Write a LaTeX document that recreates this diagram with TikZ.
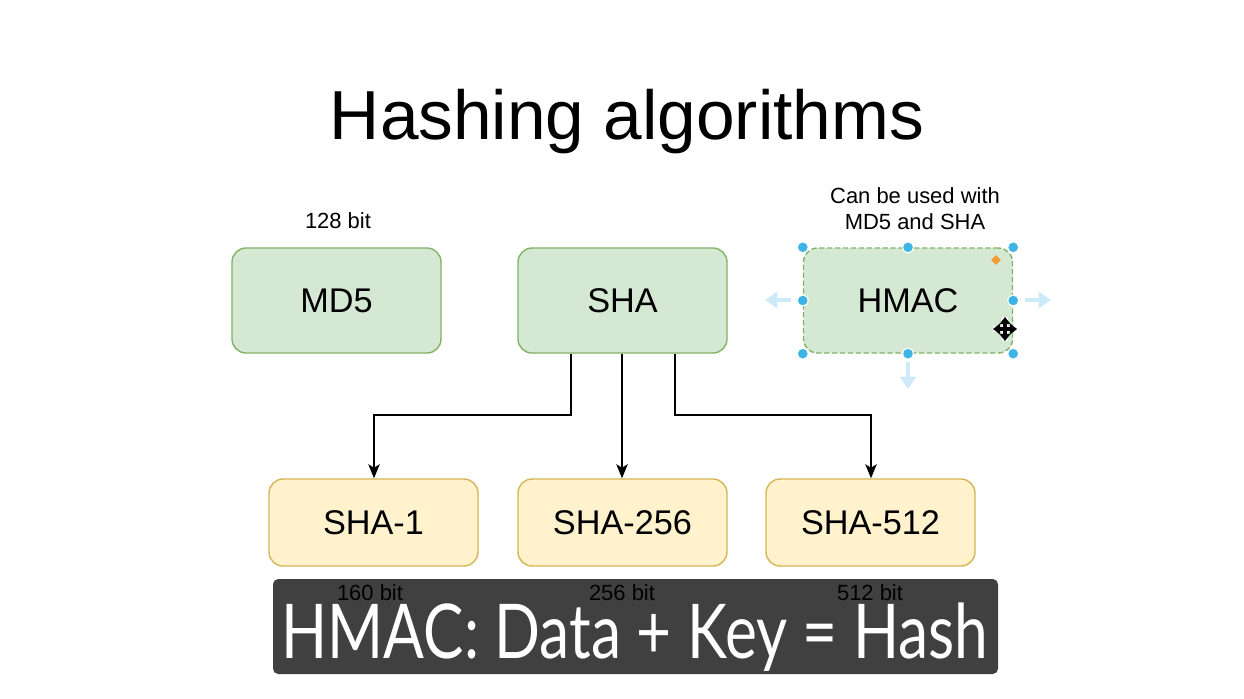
\documentclass[tikz,border=0pt]{standalone}
\usepackage{fontspec}
\setmainfont{Liberation Sans}
\newfontfamily\capfont{Lato}
\usetikzlibrary{arrows.meta,shapes.geometric}
\definecolor{gfill}{HTML}{D5E8D4}
\definecolor{gline}{HTML}{82B366}
\definecolor{yfill}{HTML}{FFF2CC}
\definecolor{yline}{HTML}{D6B656}
\definecolor{barcol}{HTML}{404040}
\definecolor{handle}{HTML}{3DB4E6}
\definecolor{ghost}{HTML}{CCEAF7}
\definecolor{orangeh}{HTML}{F39C35}
\begin{document}
\begin{tikzpicture}[x=0.02cm,y=-0.02cm,
  greenbox/.style={draw=gline,fill=gfill,line width=0.8pt,rounded corners=8pt,minimum width=209*0.02cm,minimum height=105*0.02cm,font=\fontsize{19.5}{22}\selectfont,inner sep=0pt},
  yellowbox/.style={draw=yline,fill=yfill,line width=0.8pt,rounded corners=8pt,minimum width=209*0.02cm,minimum height=87*0.02cm,font=\fontsize{19.5}{22}\selectfont,inner sep=0pt},
  note/.style={font=\fontsize{12.5}{15}\selectfont,inner sep=0pt,align=center},
  conn/.style={draw=black,line width=0.75pt,-{Stealth[length=8pt,width=6.5pt,inset=2pt]}},
  hdot/.style={circle,fill=handle,draw=white,line width=0.6pt,minimum size=11*0.02cm,inner sep=0pt},
  ghostarrow/.style={draw=ghost,line width=2.2pt,-{Triangle[length=7pt,width=9pt]}}
]
\useasboundingbox (0,0) rectangle (1244,698);
\fill[white] (0,0) rectangle (1244,698);

\node[font=\fontsize{39.5}{44}\selectfont,anchor=base,inner sep=0pt] (title) at (627,139) {Hashing algorithms};

\node[greenbox] (md5) at (336.5,300.5) {MD5};
\node[greenbox] (sha) at (622.5,300.5) {SHA};
\node[greenbox,dashed,dash pattern=on 3pt off 1.5pt] (hmac) at (908,300.5) {HMAC};

\node[yellowbox] (sha1) at (373.5,522.5) {SHA-1};
\node[yellowbox] (sha256) at (622.5,522.5) {SHA-256};
\node[yellowbox] (sha512) at (870.5,522.5) {SHA-512};

\node[note] (n128) at (338,221) {128 bit};
\node[note] (nhmac) at (915,208.5) {Can be used with\\MD5 and SHA};

\draw[conn] ([xshift=-51.5*0.02cm]sha.south) |- (374,415) -- (sha1.north -| 374,0);
\draw[conn] ([xshift=-0.5*0.02cm]sha.south) -- ([xshift=-0.5*0.02cm]sha256.north);
\draw[conn] ([xshift=52.5*0.02cm]sha.south) |- (871,415) -- (sha512.north -| 871,0);

% selection handles
\draw[ghostarrow] (791,300) -- (765,300);
\draw[ghostarrow] (1025,300) -- (1051,300);
\draw[ghostarrow] (908,362) -- (908,389);
\foreach \p in {hmac.north west,hmac.north,hmac.north east,hmac.west,hmac.east,hmac.south west,hmac.south,hmac.south east}
  \node[hdot] at (\p) {};
\node[diamond,fill=orangeh,minimum size=10*0.02cm,inner sep=0pt] (orn) at (996,260) {};
% move cursor
\begin{scope}[shift={(1005,329)}]
  \draw[white,line width=3.5pt] (-12,0) -- (12,0) (0,-12) -- (0,12);
  \draw[black,line width=1.8pt,{Triangle[length=4pt,width=6pt]}-{Triangle[length=4pt,width=6pt]}] (-12,0) -- (12,0);
  \draw[black,line width=1.8pt,{Triangle[length=4pt,width=6pt]}-{Triangle[length=4pt,width=6pt]}] (0,-12) -- (0,12);
\end{scope}

% caption bar
\node[fill=barcol,rounded corners=3pt,minimum width=725*0.02cm,minimum height=95*0.02cm,inner sep=0pt] (bar) at (635.5,626.5) {};
\node[text=white,anchor=base,inner sep=0pt] (cap) at (635,658) {\scalebox{0.8}[1]{\capfont\fontsize{43}{47}\selectfont HMAC: Data + Key = Hash}};
\node[note] (b160) at (370,593) {160 bit};
\node[note] (b256) at (622,593) {256 bit};
\node[note] (b512) at (870,593) {512 bit};
\end{tikzpicture}
\end{document}
